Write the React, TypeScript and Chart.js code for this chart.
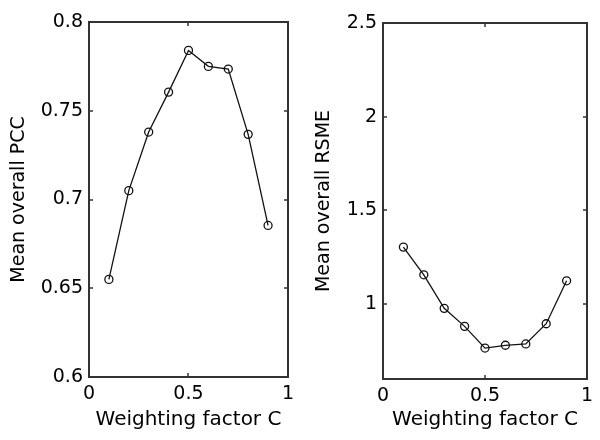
import React, { useEffect, useRef } from "react";
import { Chart, registerables } from "chart.js";

Chart.register(...registerables);

// ---- data ----
const weightingC = [0.1, 0.2, 0.3, 0.4, 0.5, 0.6, 0.7, 0.8, 0.9];
const meanPCC = [0.655, 0.705, 0.738, 0.7605, 0.784, 0.775, 0.7735, 0.7367, 0.6854];
const meanRSME = [1.304, 1.156, 0.977, 0.881, 0.765, 0.78, 0.787, 0.895, 1.124];
const xTickValues = [0, 0.5, 1];
const pccTickValues = [0.6, 0.65, 0.7, 0.75, 0.8];
const rsmeTickValues = [1, 1.5, 2, 2.5];
const xTitle = "Weighting factor C";
const pccTitle = "Mean overall PCC";
const rsmeTitle = "Mean overall RSME";

const FONT = "'DejaVu Sans', 'Liberation Sans', Arial, sans-serif";

const boxPlugin = {
  id: "matlabBox",
  afterDraw(chart: any) {
    const { ctx, chartArea: a, scales } = chart;
    const L = Math.round(a.left);
    const R = Math.round(a.right);
    const T = Math.round(a.top);
    const B = Math.round(a.bottom);
    const tl = 4;
    ctx.save();
    ctx.strokeStyle = "#333";
    ctx.lineWidth = 2;
    ctx.strokeRect(L, T, R - L, B - T);
    ctx.lineWidth = 1.5;
    ctx.beginPath();
    for (const t of scales.x.ticks) {
      const px = Math.round(scales.x.getPixelForValue(t.value));
      ctx.moveTo(px, B);
      ctx.lineTo(px, B - tl);
      ctx.moveTo(px, T);
      ctx.lineTo(px, T + tl);
    }
    for (const t of scales.y.ticks) {
      const py = Math.round(scales.y.getPixelForValue(t.value));
      ctx.moveTo(L, py);
      ctx.lineTo(L + tl, py);
      ctx.moveTo(R, py);
      ctx.lineTo(R - tl, py);
    }
    ctx.stroke();
    ctx.restore();
  },
};

type PanelProps = {
  left: number;
  values: number[];
  yMin: number;
  yMax: number;
  yTicks: number[];
  yTitle: string;
  yAxisWidth: number;
  xAxisHeight: number;
  padTop: number;
  padRight: number;
  yTitlePad: number;
};

function Panel(p: PanelProps) {
  const ref = useRef<HTMLCanvasElement>(null);
  useEffect(() => {
    if (!ref.current) return;
    const chart = new Chart(ref.current, {
      type: "line",
      data: {
        datasets: [
          {
            data: weightingC.map((x, i) => ({ x, y: p.values[i] })),
            borderColor: "#111",
            borderWidth: 1.3,
            pointRadius: 4,
            pointBorderWidth: 1.3,
            pointBorderColor: "#111",
            pointBackgroundColor: "rgba(0,0,0,0)",
            tension: 0,
            fill: false,
          },
        ],
      },
      options: {
        animation: false,
        responsive: false,
        devicePixelRatio: 1,
        layout: { padding: { top: p.padTop, right: p.padRight, left: 0, bottom: 0 } },
        plugins: { legend: { display: false }, tooltip: { enabled: false } },
        scales: {
          x: {
            type: "linear",
            min: 0,
            max: 1,
            afterBuildTicks: (s: any) => {
              s.ticks = xTickValues.map((v) => ({ value: v }));
            },
            afterFit: (s: any) => {
              s.height = p.xAxisHeight;
            },
            grid: { display: false, drawTicks: false },
            border: { display: false },
            ticks: {
              padding: 6,
              color: "#000",
              maxRotation: 0,
              font: { family: FONT, size: 19 },
              callback: (v: any) => String(v),
            },
            title: {
              display: true,
              text: xTitle,
              color: "#000",
              font: { family: FONT, size: 20 },
              padding: { top: 0, bottom: 8 },
            },
          },
          y: {
            type: "linear",
            min: p.yMin,
            max: p.yMax,
            afterBuildTicks: (s: any) => {
              s.ticks = p.yTicks.map((v) => ({ value: v }));
            },
            afterFit: (s: any) => {
              s.width = p.yAxisWidth;
            },
            grid: { display: false, drawTicks: false },
            border: { display: false },
            ticks: {
              padding: 6,
              color: "#000",
              font: { family: FONT, size: 19 },
              callback: (v: any) => String(v),
            },
            title: {
              display: true,
              text: p.yTitle,
              color: "#000",
              font: { family: FONT, size: 19 },
              padding: { top: p.yTitlePad, bottom: 0 },
            },
          },
        },
      },
      plugins: [boxPlugin],
    } as any);
    return () => chart.destroy();
  }, []);
  return (
    <canvas
      ref={ref}
      width={300}
      height={440}
      style={{ position: "absolute", left: p.left, top: 0, width: 300, height: 440 }}
    />
  );
}

export default function App() {
  return (
    <div style={{ position: "absolute", left: 0, top: 0, width: 600, height: 440, background: "#fff" }}>
      <Panel
        left={0}
        values={meanPCC}
        yMin={0.6}
        yMax={0.8}
        yTicks={pccTickValues}
        yTitle={pccTitle}
        yAxisWidth={89}
        xAxisHeight={63}
        padTop={22}
        padRight={9}
        yTitlePad={7.6}
      />
      <Panel
        left={300}
        values={meanRSME}
        yMin={0.6}
        yMax={2.5}
        yTicks={rsmeTickValues}
        yTitle={rsmeTitle}
        yAxisWidth={83}
        xAxisHeight={61}
        padTop={23}
        padRight={13}
        yTitlePad={12.6}
      />
    </div>
  );
}
